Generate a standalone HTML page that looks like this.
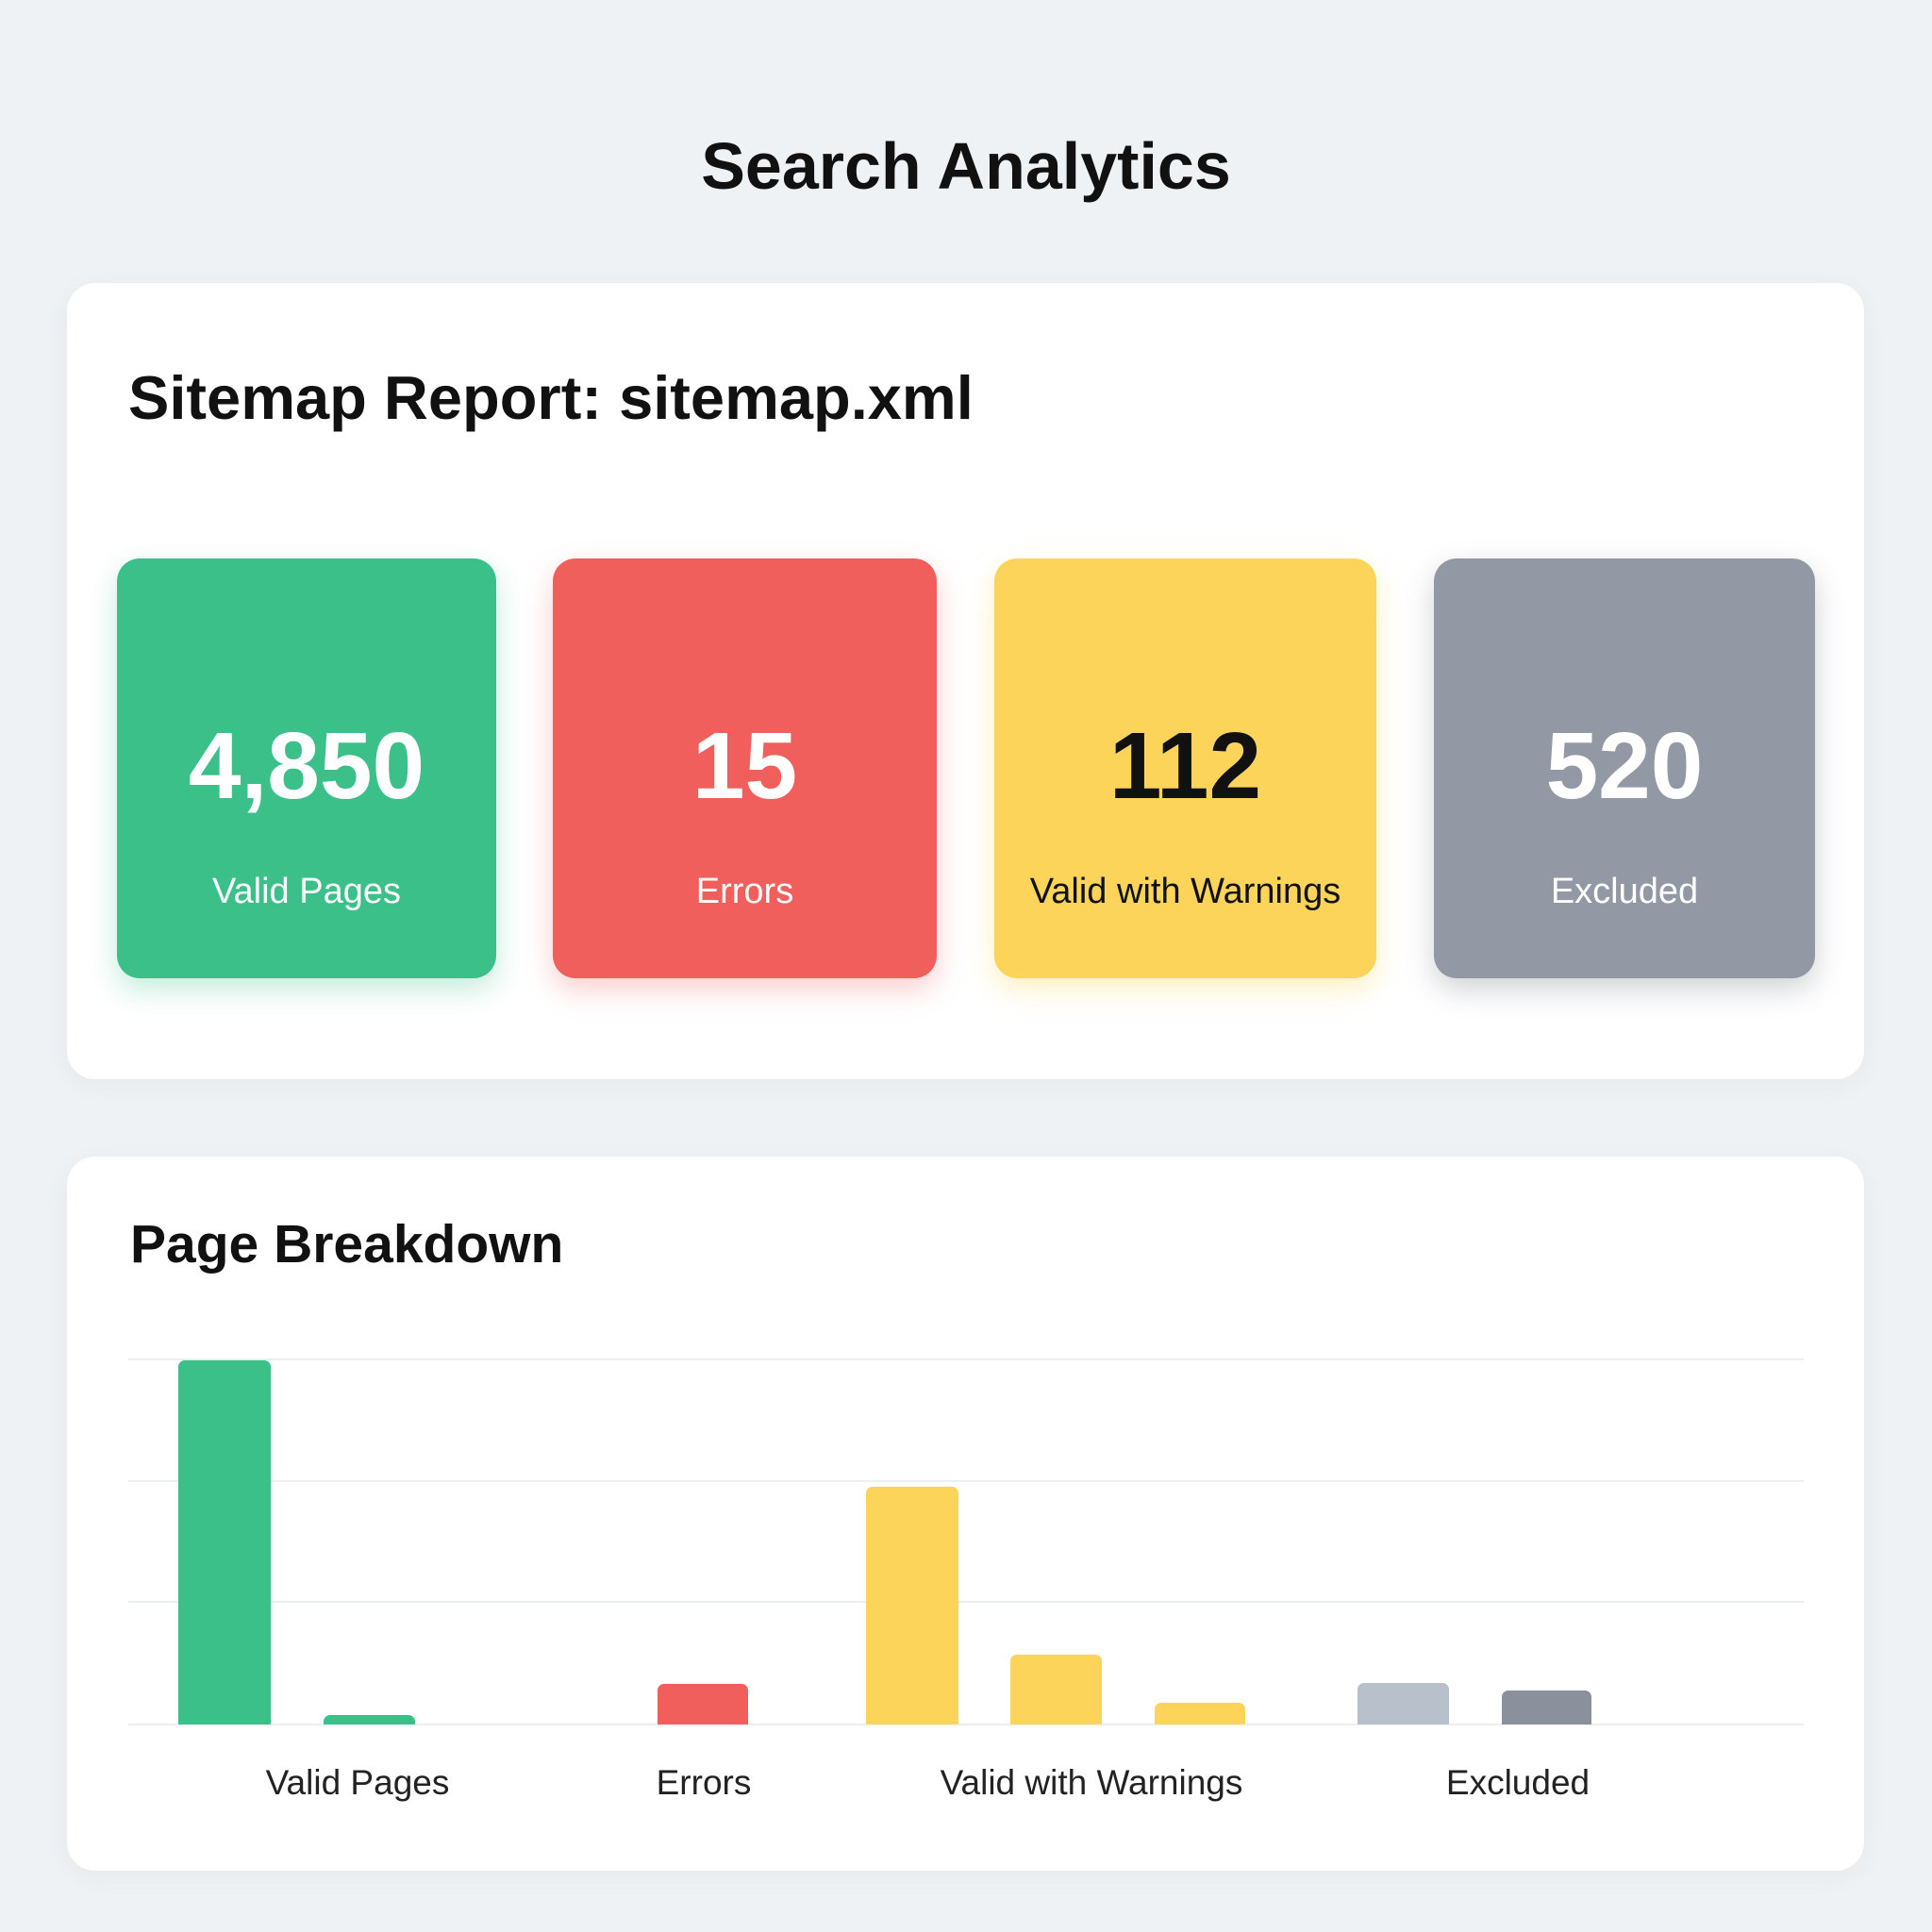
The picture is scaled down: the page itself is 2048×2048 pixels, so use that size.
<!DOCTYPE html>
<html><head><meta charset="utf-8"><style>
*{margin:0;padding:0;box-sizing:border-box}
body{width:2048px;height:2048px;background:#eef2f5;font-family:"Liberation Sans",sans-serif;position:relative;overflow:hidden;color:#111}
.abs{position:absolute}
.card{position:absolute;background:#fff;border-radius:30px;box-shadow:0 6px 30px rgba(0,0,0,0.04)}
.tile{position:absolute;top:592px;height:445px;border-radius:24px;text-align:center}
.num{position:absolute;left:0;right:0;top:168px;font-size:100px;font-weight:bold;line-height:104px}
.tl{position:absolute;left:0;right:0;top:331px;font-size:38px;line-height:44px}
.grid{position:absolute;left:136px;width:1776px;height:2px;background:#eceef1}
.bar{position:absolute;border-radius:7px 7px 0 0}
.xl{position:absolute;top:1868px;width:400px;text-align:center;font-size:37px;line-height:44px;color:#222}
</style></head><body>
<div class="abs" style="left:0;right:0;top:136px;text-align:center;font-size:70px;font-weight:bold;line-height:80px">Search Analytics</div>
<div class="card" style="left:71px;top:300px;width:1905px;height:844px"></div>
<div class="abs" style="left:136px;top:384px;font-size:65px;font-weight:bold;line-height:76px">Sitemap Report: sitemap.xml</div>
<div class="tile" style="left:124px;width:402px;background:#3cc08a;color:#fff;box-shadow:0 12px 30px rgba(60,192,138,0.3)"><div class="num">4,850</div><div class="tl">Valid Pages</div></div>
<div class="tile" style="left:586px;width:407px;background:#f05f5c;color:#fff;box-shadow:0 12px 30px rgba(240,95,92,0.3)"><div class="num">15</div><div class="tl">Errors</div></div>
<div class="tile" style="left:1054px;width:405px;background:#fcd45a;color:#111;box-shadow:0 12px 30px rgba(252,212,90,0.35)"><div class="num">112</div><div class="tl">Valid with Warnings</div></div>
<div class="tile" style="left:1520px;width:404px;background:#9399a4;color:#fff;box-shadow:0 12px 30px rgba(100,110,120,0.3)"><div class="num">520</div><div class="tl">Excluded</div></div>

<div class="card" style="left:71px;top:1226px;width:1905px;height:757px"></div>
<div class="abs" style="left:138px;top:1286px;font-size:57px;font-weight:bold;line-height:66px">Page Breakdown</div>
<div class="grid" style="top:1440px"></div>
<div class="grid" style="top:1569px"></div>
<div class="grid" style="top:1697px"></div>
<div class="grid" style="top:1827px"></div>
<div class="bar" style="left:189px;width:98px;top:1442px;height:386px;background:#3cc08a"></div>
<div class="bar" style="left:343px;width:97px;top:1818px;height:10px;background:#3cc08a"></div>
<div class="bar" style="left:697px;width:96px;top:1785px;height:43px;background:#f05f5c"></div>
<div class="bar" style="left:918px;width:98px;top:1576px;height:252px;background:#fcd45a"></div>
<div class="bar" style="left:1071px;width:97px;top:1754px;height:74px;background:#fcd45a"></div>
<div class="bar" style="left:1224px;width:96px;top:1805px;height:23px;background:#fcd45a"></div>
<div class="bar" style="left:1439px;width:97px;top:1784px;height:44px;background:#b8c0cc"></div>
<div class="bar" style="left:1592px;width:95px;top:1792px;height:36px;background:#8a909c"></div>
<div class="xl" style="left:179px">Valid Pages</div>
<div class="xl" style="left:546px">Errors</div>
<div class="xl" style="left:957px">Valid with Warnings</div>
<div class="xl" style="left:1409px">Excluded</div>
</body></html>
